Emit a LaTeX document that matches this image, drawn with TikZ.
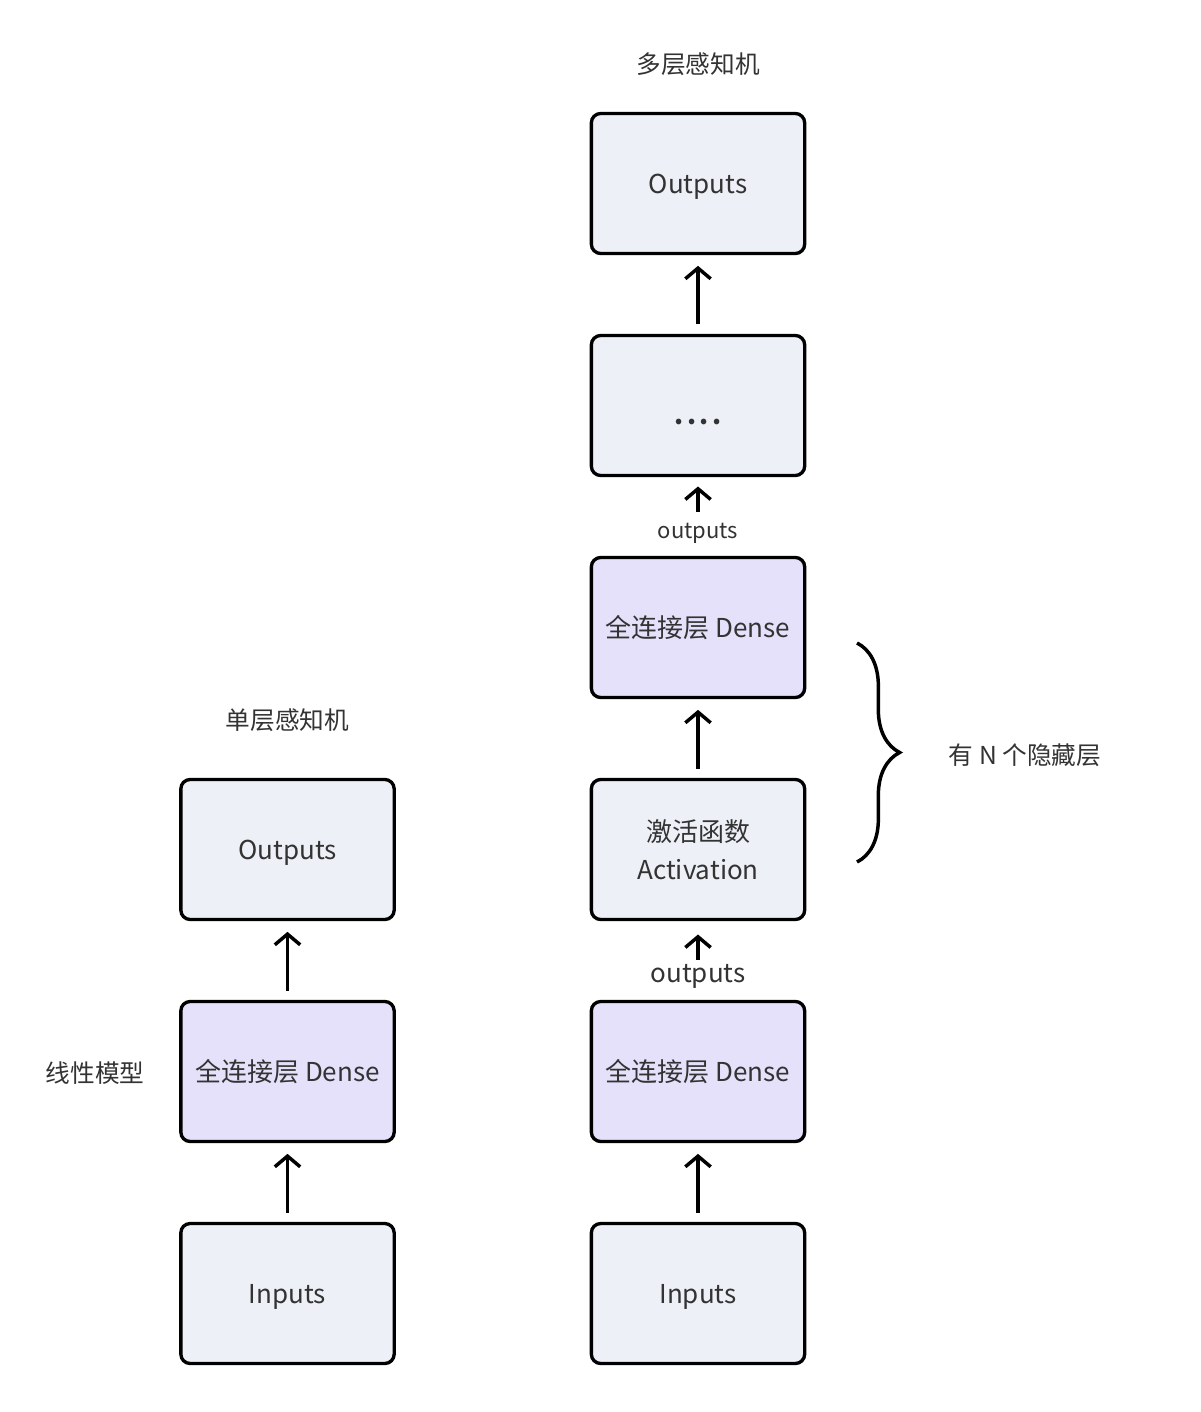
\documentclass[tikz,border=0pt]{standalone}
\usepackage{fontspec}
\setmainfont{Noto Sans CJK SC}
\usetikzlibrary{arrows.meta,decorations.pathreplacing}
\definecolor{boxgray}{HTML}{EEF0F8}
\definecolor{denselav}{HTML}{E6E1FA}
\definecolor{txtgray}{HTML}{333333}
\begin{document}
\begin{tikzpicture}
[
 x=0.75pt, y=-0.75pt,
 inner sep=0pt,
 every node/.style={text=txtgray, font=\fontsize{19.5}{28.5}\selectfont},
 BOX/.style={rectangle, rounded corners=7pt, draw=black, line width=2.5pt, fill=boxgray, minimum width=160pt, minimum height=105pt, align=center, text height=16pt, text depth=1.5pt},
 DENSEBOX/.style={BOX, fill=denselav},
 TITLE/.style={font=\fontsize{18.5}{22}\selectfont},
 SMALLLAB/.style={font=\fontsize{16.5}{20}\selectfont},
 ARR/.style={-{Straight Barb[length=8pt,width=19pt]}, line width=2.6pt, shorten >=8pt, shorten <=7pt},
 ]
%
\useasboundingbox [fill=white] (0,0) rectangle (1200,1412);
%
% single layer perceptron
\node [TITLE]     (STITLE) at (287.5, 720)    {单层感知机};
\node [BOX]       (SOUT)   at (287.5, 849.5)  {Outputs};
\node [DENSEBOX]  (SDEN)   at (287.5, 1071.5) {全连接层 Dense};
\node [BOX]       (SIN)    at (287.5, 1293.5) {Inputs};
\node [TITLE]     (SLIN)   at (95, 1073)      {线性模型};
%
\draw [ARR]  (SIN.north)  -- (SDEN.south) ;
\draw [ARR]  (SDEN.north) -- (SOUT.south) ;
%
% multi layer perceptron
\node [TITLE]     (MTITLE) at (698, 64)       {多层感知机};
\node [BOX]       (MOUT)   at (698, 183.5)    {Outputs};
\node [BOX, text height=28pt, text depth=0pt]
                  (MDOT)   at (698, 405.5)    {\textbf{.\kern2.5pt.\kern2.5pt.\kern2.5pt.}};
\node [SMALLLAB]  (MLAB1)  at (698, 533)      {outputs};
\node [DENSEBOX]  (MDEN1)  at (698, 627.5)    {全连接层 Dense};
\node [BOX, text height={}, text depth={}]
                  (MACT)   at (698, 849.5)    {激活函数\\Activation};
\node             (MLAB2)  at (698, 976)      {outputs};
\node [DENSEBOX]  (MDEN2)  at (698, 1071.5)   {全连接层 Dense};
\node [BOX]       (MIN)    at (698, 1293.5)   {Inputs};
%
\draw [ARR]  (MIN.north)   -- (MDEN2.south) ;
\draw [ARR, shorten >=10pt, shorten <=3pt]  (MLAB2.north) -- (MACT.south) ;
\draw [ARR]  (MACT.north)  -- (MDEN1.south) ;
\draw [ARR, shorten >=7pt, shorten <=8pt]  (MLAB1.north) -- (MDOT.south) ;
\draw [ARR]  (MDOT.north)  -- (MOUT.south) ;
%
% hidden layers brace
\coordinate (BRTOP) at (857, 643);
\coordinate (BRBOT) at (857, 862);
\draw [line width=2.6pt, decorate, decoration={brace, amplitude=32pt}] (BRTOP) -- (BRBOT);
\node [TITLE]     (MHID)   at (1025, 755)     {有 N 个隐藏层};
%
\end{tikzpicture}
\end{document}
